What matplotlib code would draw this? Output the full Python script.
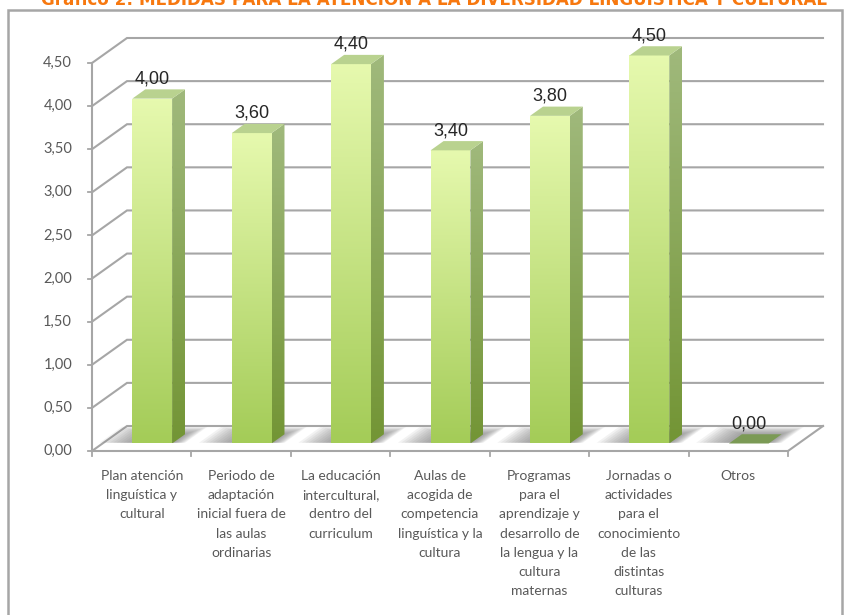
import numpy as np
import matplotlib.pyplot as plt
from matplotlib.patches import Polygon, Rectangle
from matplotlib.colors import to_rgb

titulo = "Gráfico 2: MEDIDAS PARA LA ATENCIÓN A LA DIVERSIDAD LINGÜÍSTICA Y CULTURAL"
categorias = [
    "Plan atención\nlinguística y\ncultural",
    "Periodo de\nadaptación\ninicial fuera de\nlas aulas\nordinarias",
    "La educación\nintercultural,\ndentro del\ncurriculum",
    "Aulas de\nacogida de\ncompetencia\nlinguística y la\ncultura",
    "Programas\npara el\naprendizaje y\ndesarrollo de\nla lengua y la\ncultura\nmaternas",
    "Jornadas o\nactividades\npara el\nconocimiento\nde las\ndistintas\nculturas",
    "Otros",
]
valores = [4.00, 3.60, 4.40, 3.40, 3.80, 4.50, 0.00]
ticks_y = [0.0, 0.5, 1.0, 1.5, 2.0, 2.5, 3.0, 3.5, 4.0, 4.5]


def coma(v):
    return f"{v:.2f}".replace(".", ",")


W, H = 845, 615
fig = plt.figure(figsize=(W / 100, H / 100), dpi=100)
ax = fig.add_axes([0, 0, 1, 1])
ax.set_axis_off()

# escala: categoria 0 -> px 92, categoria 7 -> px 788; valor 0 -> px 451, 4.5 -> px 63
n = len(valores)
sx = (788 - 92) / n
sy = (451 - 63) / 4.5
xlim = (-92 / sx, n + (W - 788) / sx)
ylim = (-(H - 451) / sy, 451 / sy)
DX, DY = 35 / sx, 25 / sy   # desplazamiento de profundidad


def P(x, v, d):
    return (x + d * DX, v + d * DY)


GRIS = "#a6a6a6"
TEXTO = "#595959"

# rejilla: pared lateral + pared del fondo
for v in ticks_y:
    pts = [P(0, v, 0), P(0, v, 1), P(n, v, 1)]
    ax.plot([p[0] for p in pts], [p[1] for p in pts], color=GRIS, lw=1.5, zorder=1,
            solid_joinstyle="miter")
# borde derecho del suelo y eje frontal
ax.plot(*zip(P(n, 0, 0), P(n, 0, 1)), color=GRIS, lw=1.5, zorder=1)
ax.plot(*zip(P(0, 0, 0), P(n, 0, 0)), color=GRIS, lw=1.5, zorder=1)
ax.plot(*zip(P(0, 0, 0), P(0, ticks_y[-1], 0)), color=GRIS, lw=1.5, zorder=1)

# marcas y etiquetas del eje y
for v in ticks_y:
    ax.plot([-0.045, 0], [v, v], color=GRIS, lw=1.3, zorder=1)
    ax.text(-0.2, v, coma(v), ha="right", va="center", fontsize=10.5,
            family="Lato", color=TEXTO)

# marcas del eje x
for i in range(n + 1):
    ax.plot([i, i], [0, -0.06], color=GRIS, lw=1.3, zorder=1)
for i, c in enumerate(categorias):
    ax.text(i + 0.5, -0.22, c, ha="center", va="top", fontsize=10, family="Lato",
            color=TEXTO, linespacing=1.72)


def gradiente(pts, c_top, c_bot, z):
    poly = Polygon(pts, closed=True, facecolor="none", edgecolor="none",
                   transform=ax.transData)
    ax.add_patch(poly)
    xs = [p[0] for p in pts]
    ys = [p[1] for p in pts]
    t = np.linspace(0, 1, 64)[:, None]
    img = (1 - t) * np.array(to_rgb(c_top)) + t * np.array(to_rgb(c_bot))
    im = ax.imshow(img[:, None, :], extent=[min(xs), max(xs), min(ys), max(ys)],
                   origin="upper", aspect="auto", interpolation="bilinear", zorder=z)
    im.set_clip_path(poly)


hw = 0.2           # media anchura de barra (categorias)
f0, f1 = 0.30, 0.67  # profundidad de la barra

for i, v in enumerate(valores):
    xc = i + 0.5
    # sombra difusa sobre el suelo
    for s in np.linspace(1.0, 0.1, 10):
        sh = [P(xc - hw - 0.34 * s, 0, f0 + 0.03), P(xc + hw + 0.12 * s, 0, f0 + 0.03),
              P(xc + hw + 0.12 * s, 0, min(1.0, f1 + 0.3 * s)),
              P(xc - hw - 0.34 * s, 0, min(1.0, f1 + 0.3 * s))]
        ax.add_patch(Polygon(sh, closed=True, facecolor="#6f6f6f", edgecolor="none",
                             alpha=0.085, zorder=2))

    top = [P(xc - hw, v, f0), P(xc + hw, v, f0), P(xc + hw, v, f1), P(xc - hw, v, f1)]
    if v > 0:
        front = [P(xc - hw, 0, f0), P(xc + hw, 0, f0), P(xc + hw, v, f0), P(xc - hw, v, f0)]
        side = [P(xc + hw, 0, f0), P(xc + hw, 0, f1), P(xc + hw, v, f1), P(xc + hw, v, f0)]
        gradiente(front, "#e6f9ae", "#a4cc58", 3)
        gradiente(side, "#a0b97c", "#739535", 3)
        ax.add_patch(Polygon(top, closed=True, facecolor="#b9d28f", edgecolor="none",
                             zorder=4))
    else:
        ax.add_patch(Polygon(top, closed=True, facecolor="#7b9a55", edgecolor="none",
                             zorder=4))
    lx, ly = P(xc, v, f0)
    ax.annotate(coma(v), (lx, P(xc, v, f1)[1]), xytext=(0, 1.5), textcoords="offset points",
                ha="center", va="bottom", fontsize=13, family="Liberation Sans",
                color="#262626", zorder=6)

ax.set_xlim(*xlim)
ax.set_ylim(*ylim)

# marco exterior del grafico
fig.patches.append(Rectangle((8 / W, -0.05), (842 - 8) / W, 1.05 - 10 / H,
                             transform=fig.transFigure, facecolor="none",
                             edgecolor=GRIS, lw=1.8))

# titulo (recortado por el borde superior)
t = fig.text(434 / W, 1 - 5 / H, titulo, ha="center", va="baseline", fontsize=12,
             fontweight="bold", color="#f7780f", family="DejaVu Sans")
fig.canvas.draw()
ancho = t.get_window_extent().width
t.set_fontsize(12 * 782 / ancho)

fig.savefig("out.png", dpi=100)
